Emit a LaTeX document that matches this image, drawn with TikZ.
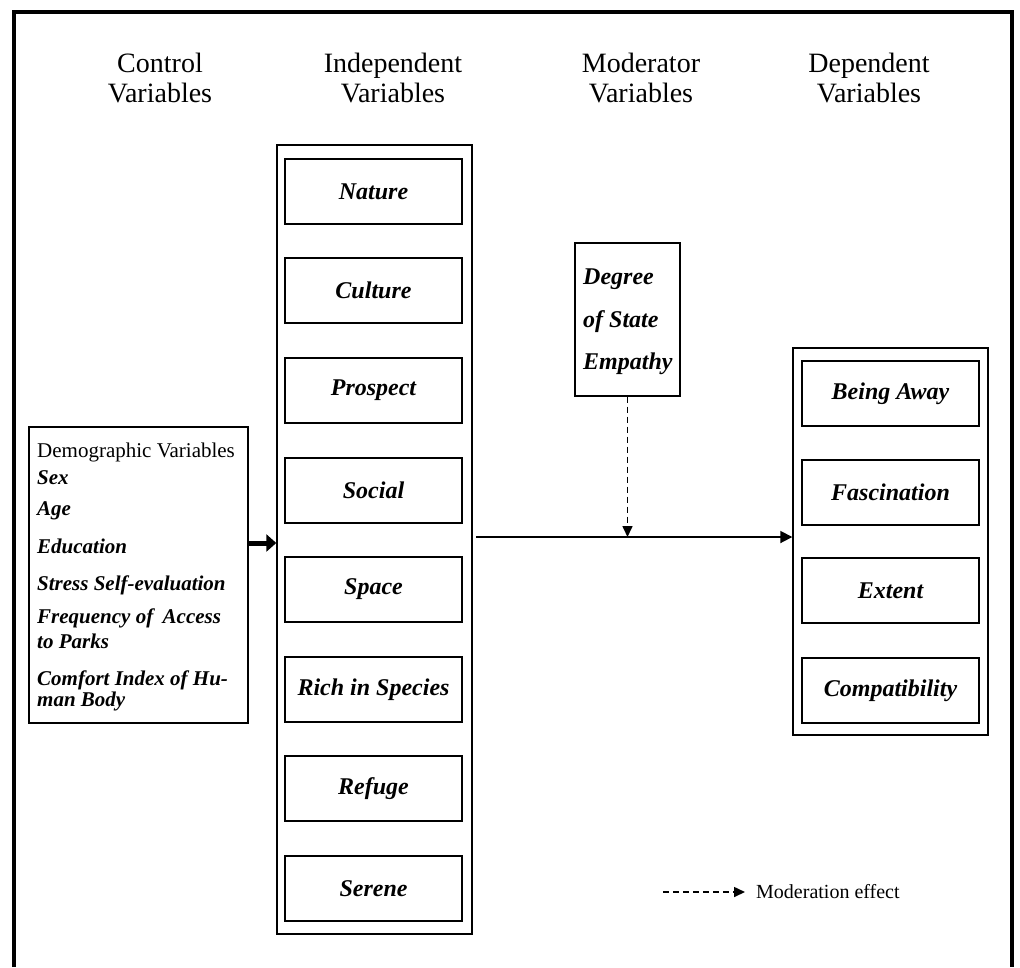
\documentclass[tikz,border=0pt]{standalone}
\usepackage{fontspec}
\setmainfont{Liberation Serif}
\usetikzlibrary{arrows.meta}
\tikzset{
  header/.style={align=center, font=\fontsize{28}{30}\selectfont, inner sep=0pt},
  outerbox/.style={draw, line width=1.4pt, rectangle, minimum width=195pt, inner sep=0pt},
  itembox/.style={draw, line width=1.4pt, rectangle, minimum width=177pt, minimum height=65pt, inner sep=0pt, font=\fontsize{24}{26}\selectfont\bfseries\itshape},
  demotext/.style={anchor=base west, inner sep=0pt, font=\fontsize{21}{23}\selectfont\bfseries\itshape},
  modtext/.style={anchor=base west, inner sep=0pt, font=\fontsize{24}{26}\selectfont\bfseries\itshape},
  mainarrow/.style={line width=1.8pt, -{Triangle[length=12pt,width=12pt]}},
  modarrow/.style={line width=1.6pt, dash pattern=on 6pt off 4pt, -{Triangle[length=11pt,width=10pt]}},
  thickarrow/.style={line width=5pt, -{Triangle[length=10pt,width=17pt]}}
}
\begin{document}
\begin{tikzpicture}[x=1pt,y=-1pt]
\useasboundingbox (0,0) rectangle (1020,967);
% frame
\draw[line width=3.5pt] (14,967) -- (14,12) -- (1012,12) -- (1012,967);

% headers
\node[header] (hctrl) at (160,78) {Control\\Variables};
\node[header] (hind) at (393,78) {Independent\\Variables};
\node[header] (hmod) at (641,78) {Moderator\\Variables};
\node[header] (hdep) at (869,78) {Dependent\\Variables};

% independent variables
\node[outerbox, minimum height=789pt] (indep) at (374.5,539.5) {};
\node[itembox] (nature) at (373.5,191.5) {Nature};
\node[itembox] (culture) at (373.5,290.5) {Culture};
\node[itembox] (prospect) at (373.5,390.5) {Prospect};
\node[itembox] (social) at (373.5,490.5) {Social};
\node[itembox] (space) at (373.5,589.5) {Space};
\node[itembox] (rich) at (373.5,689.5) {Rich in Species};
\node[itembox] (refuge) at (373.5,788.5) {Refuge};
\node[itembox] (serene) at (373.5,888.5) {Serene};

% dependent variables
\node[outerbox, minimum height=387pt] (dep) at (890.5,541.5) {};
\node[itembox] (away) at (890.5,393.5) {Being Away};
\node[itembox] (fasc) at (890.5,492.5) {Fascination};
\node[itembox] (extent) at (890.5,590.5) {Extent};
\node[itembox] (compat) at (890.5,690.5) {Compatibility};

% control variables
\node[draw, line width=1.4pt, rectangle, minimum width=219pt, minimum height=296pt, inner sep=0pt] (demo) at (138.5,575) {};
\node[anchor=base west, inner sep=0pt, font=\fontsize{21}{23}\selectfont] (dv) at (37,457) {Demographic Variables};
\node[demotext] (sex) at (37,484) {Sex};
\node[demotext] (age) at (37,515) {Age};
\node[demotext] (edu) at (37,553) {Education};
\node[demotext] (stress) at (37,590) {Stress Self-evaluation};
\node[demotext] (freq1) at (37,623) {Frequency of\hspace{0.45em}Access};
\node[demotext] (freq2) at (37,648) {to Parks};
\node[demotext] (comf1) at (37,685) {Comfort Index of Hu-};
\node[demotext] (comf2) at (37,706) {man Body};

% moderator
\node[draw, line width=1.4pt, rectangle, minimum width=105pt, minimum height=153pt, inner sep=0pt] (mod) at (627.5,319.5) {};
\node[modtext] (m1) at (583,284) {Degree};
\node[modtext] (m2) at (583,327) {of State};
\node[modtext] (m3) at (583,369) {Empathy};

% connectors
\draw[thickarrow] (demo.east |- 0,543) -- (indep.west |- 0,543);
\coordinate (ls) at (476,537);
\draw[mainarrow] (ls) -- (ls -| dep.west);
\draw[modarrow] (mod.south) -- (mod.south |- ls);

% legend
\coordinate (l1) at (663,892);
\node[anchor=west, inner ysep=0pt, inner xsep=11pt, font=\fontsize{20}{22}\selectfont] (legtxt) at (745,892) {Moderation effect};
\draw[modarrow] (l1) -- (legtxt.west);
\end{tikzpicture}
\end{document}
